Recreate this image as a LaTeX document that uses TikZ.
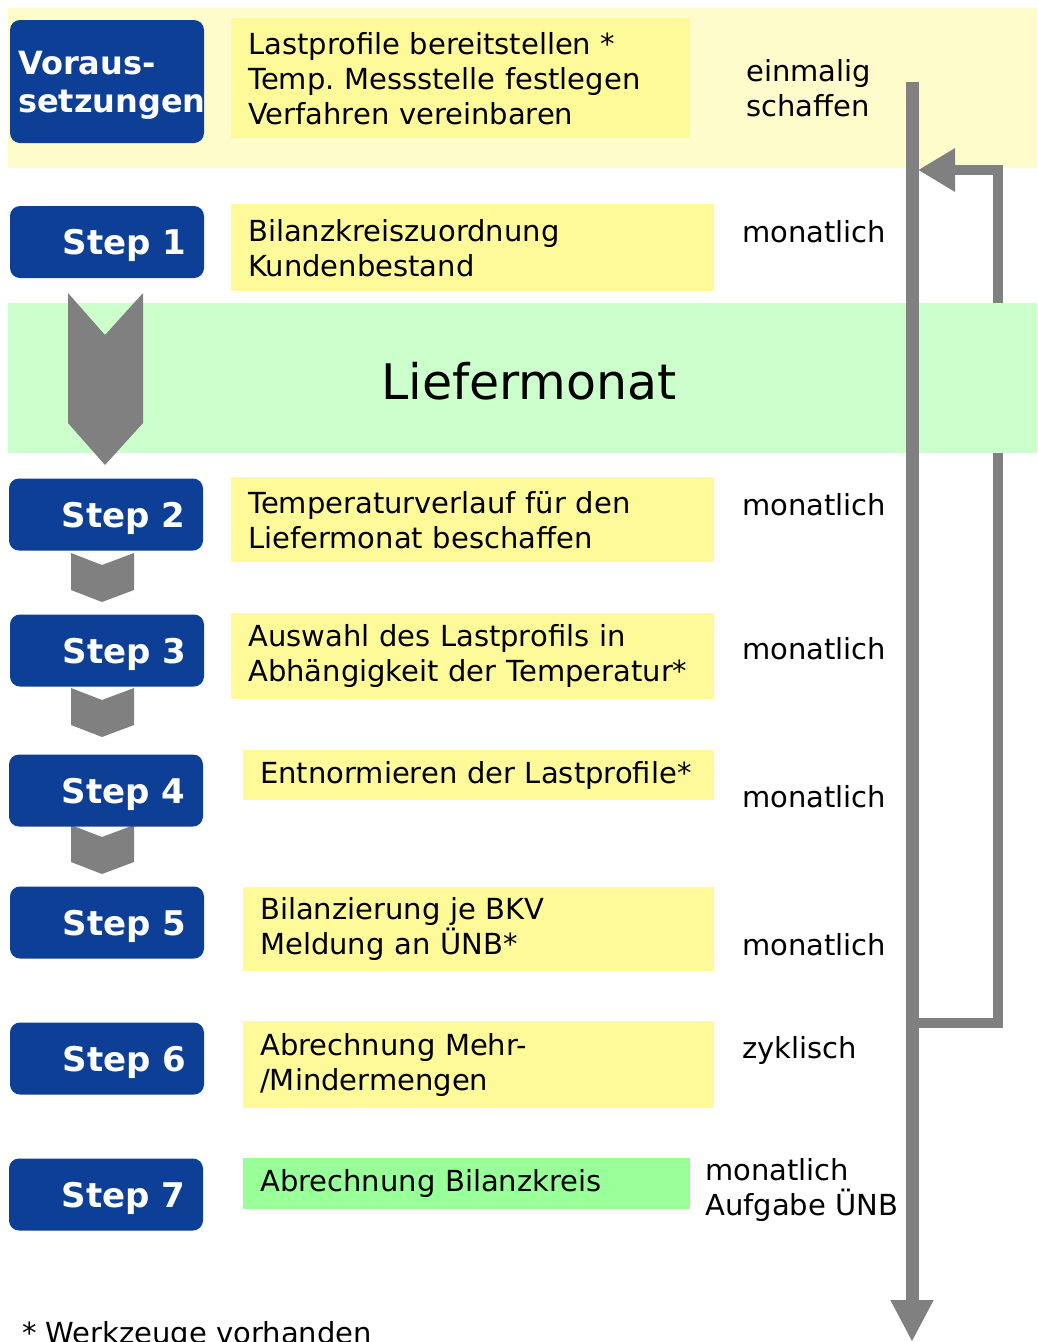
\documentclass[tikz,border=0pt]{standalone}
\usepackage{fontspec}
\setmainfont{DejaVu Sans}
\usepackage{tikz}
\usetikzlibrary{positioning,arrows.meta,calc}
\frenchspacing
\definecolor{fcblue}{RGB}{13,63,150}
\newcommand{\fcBandY}{yellow!20}
\newcommand{\fcBandG}{green!20}
\newcommand{\fcTaskY}{yellow!40}
\newcommand{\fcTaskG}{green!40}
\newcommand{\fcGray}{black!50}
\tikzset{
  fcstep/.style={fill=fcblue, rounded corners=10pt, minimum height=72pt,
                 inner xsep=18pt, text width=158pt, align=right, text=white,
                 text depth=0pt, font=\fontsize{34}{40}\selectfont\bfseries},
  fcpre/.style={fcstep, inner xsep=8pt, text width=178pt, minimum height=123pt,
                align=left, font=\fontsize{32}{38}\selectfont\bfseries},
  fctask/.style={anchor=north west, inner xsep=17pt, inner ysep=0pt, align=left,
                 font=\fontsize{29}{35}\selectfont},
  fcfreq/.style={anchor=west, inner sep=0pt, align=left,
                 font=\fontsize{29}{35}\selectfont},
  fcband/.style={anchor=north west, inner sep=0pt, minimum width=1029pt},
  fcchev/.style={fill=\fcGray},
  fcflow/.style={draw=\fcGray, line width=13pt, -{Triangle[width=40pt,length=42pt]}},
  fcloop/.style={draw=\fcGray, line width=10pt, -{Triangle[width=41pt,length=37pt]}},
}

\begin{document}
\begin{tikzpicture}[x=1pt, y=-1pt]
  \useasboundingbox (0,0) rectangle (1037,1342);
  % bands and feedback loop
  \node[fcband, fill=\fcBandY, minimum height=160pt] (prep) at (8,8) {};
  \coordinate (loopfoot) at (912,1023);
  \coordinate (loophead) at (918,170);
  \draw[fcloop] (loopfoot) -- ++(86,0) |- (loophead);
  \node[fcband, fill=\fcBandG, minimum height=150pt] (month) at (8,303) {};
  \node[font=\fontsize{49}{56}\selectfont] (monthlab) at (529,381) {Liefermonat};
  \coordinate (flowtop) at (912,82);
  \coordinate (flowend) at (912,1342);
  \draw[fcflow] (flowtop) -- (flowend);

  % chevrons
  \fill[fcchev] (68,293) -- (105,335) -- (143,293) -- (143,423) -- (105,465) -- (68,423) -- cycle;
  \foreach \t in {553,688,825}
    \fill[fcchev] (71,\t) -- (102,\t+12) -- (134,\t) -- (134,\t+37) -- (102,\t+49) -- (71,\t+37) -- cycle;

  % steps
  \node[fcpre, text depth=37.7pt] (s0) at (107,81.5) {Voraus-\\setzungen};
  \node[fcstep] (s1) at (107,242) {Step 1};
  \node[fcstep] (s2) at (106,514.5) {Step 2};
  \node[fcstep] (s3) at (107,650.5) {Step 3};
  \node[fcstep] (s4) at (106,790.5) {Step 4};
  \node[fcstep] (s5) at (107,922.5) {Step 5};
  \node[fcstep] (s6) at (107,1058.5) {Step 6};
  \node[fcstep] (s7) at (106,1194.5) {Step 7};

  % tasks
  \node[fctask, fill=\fcTaskY, text width=425pt, minimum height=120pt] (t0) at (231,18)
    {Lastprofile bereitstellen *\\Temp. Messstelle festlegen\\Verfahren vereinbaren};
  \node[fctask, fill=\fcTaskY, text width=449pt, minimum height=87pt] (t1) at (231,204)
    {Bilanzkreiszuordnung\\Kundenbestand};
  \node[fctask, fill=\fcTaskY, text width=449pt, minimum height=85pt] (t2) at (231,477)
    {Temperaturverlauf für den\\Liefermonat beschaffen};
  \node[fctask, fill=\fcTaskY, text width=449pt, minimum height=86pt] (t3) at (231,613)
    {Auswahl des Lastprofils in\\Abhängigkeit der Temperatur*};
  \node[fctask, fill=\fcTaskY, text width=437pt, minimum height=50pt] (t4) at (243,750)
    {Entnormieren der Lastprofile*};
  \node[fctask, fill=\fcTaskY, text width=437pt, minimum height=84pt] (t5) at (243,887)
    {Bilanzierung je BKV\\Meldung an ÜNB*};
  \node[fctask, fill=\fcTaskY, text width=437pt, minimum height=87pt] (t6) at (243,1021)
    {Abrechnung Mehr-\\/Mindermengen};
  \node[fctask, fill=\fcTaskG, text width=413pt, minimum height=51pt] (t7) at (243,1158)
    {Abrechnung Bilanzkreis};

  % frequency
  \node[fcfreq] (f0) at (746,88) {einmalig\\schaffen};
  \node[fcfreq] (f1) at (742,231.5) {monatlich};
  \node[fcfreq] (f2) at (742,504.5) {monatlich};
  \node[fcfreq] (f3) at (742,648.5) {monatlich};
  \node[fcfreq] (f4) at (742,796.5) {monatlich};
  \node[fcfreq] (f5) at (742,944.5) {monatlich};
  \node[fcfreq] (f6) at (742,1050.5) {zyklisch};
  \node[fcfreq] (f7) at (705,1190) {monatlich\\Aufgabe ÜNB};

  \node[fcfreq, anchor=base west] (note) at (22,1343) {* Werkzeuge vorhanden};
\end{tikzpicture}
\end{document}
